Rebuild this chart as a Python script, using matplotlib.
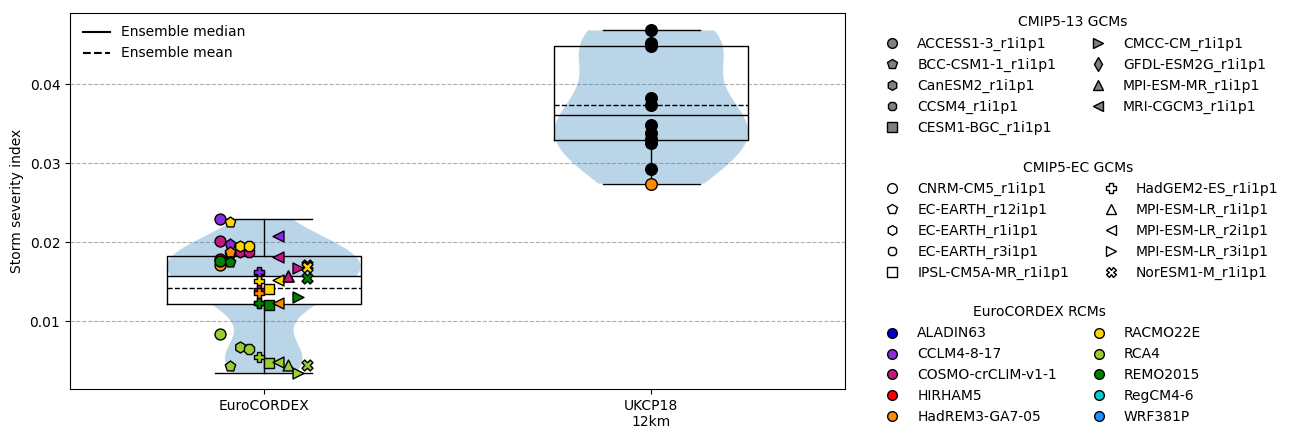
import matplotlib
matplotlib.use('Agg')
import matplotlib.pyplot as plt
from matplotlib.lines import Line2D
import numpy as np

# ---------------- data ----------------
categories = ["EuroCORDEX", "UKCP18\n12km"]

cmip13_gcms = ["ACCESS1-3_r1i1p1", "BCC-CSM1-1_r1i1p1", "CanESM2_r1i1p1", "CCSM4_r1i1p1",
               "CESM1-BGC_r1i1p1", "CMCC-CM_r1i1p1", "GFDL-ESM2G_r1i1p1", "MPI-ESM-MR_r1i1p1",
               "MRI-CGCM3_r1i1p1"]
cmip13_markers = ['o', 'p', 'h', '8', 's', '>', 'd', '^', '<']

ec_gcms = ["CNRM-CM5_r1i1p1", "EC-EARTH_r12i1p1", "EC-EARTH_r1i1p1", "EC-EARTH_r3i1p1",
           "IPSL-CM5A-MR_r1i1p1", "HadGEM2-ES_r1i1p1", "MPI-ESM-LR_r1i1p1", "MPI-ESM-LR_r2i1p1",
           "MPI-ESM-LR_r3i1p1", "NorESM1-M_r1i1p1"]
ec_markers = ['o', 'p', 'h', '8', 's', 'P', '^', '<', '>', 'X']
# order of GCMs across the horizontal spread of the EuroCORDEX points
ec_spread_order = ["CNRM-CM5_r1i1p1", "EC-EARTH_r12i1p1", "EC-EARTH_r1i1p1", "EC-EARTH_r3i1p1",
                   "HadGEM2-ES_r1i1p1", "IPSL-CM5A-MR_r1i1p1", "MPI-ESM-LR_r2i1p1",
                   "MPI-ESM-LR_r1i1p1", "MPI-ESM-LR_r3i1p1", "NorESM1-M_r1i1p1"]

rcms = ["ALADIN63", "CCLM4-8-17", "COSMO-crCLIM-v1-1", "HIRHAM5", "HadREM3-GA7-05",
        "RACMO22E", "RCA4", "REMO2015", "RegCM4-6", "WRF381P"]
rcm_colors = ["mediumblue", "blueviolet", "mediumvioletred", "red", "darkorange",
              "gold", "yellowgreen", "green", "darkturquoise", "dodgerblue"]

# EuroCORDEX members (drawing order: partly hidden ones first)
euro_gcm = ["MPI-ESM-LR_r1i1p1", "HadGEM2-ES_r1i1p1", "HadGEM2-ES_r1i1p1", "EC-EARTH_r12i1p1",
            "CNRM-CM5_r1i1p1", "NorESM1-M_r1i1p1",
            "CNRM-CM5_r1i1p1", "CNRM-CM5_r1i1p1", "CNRM-CM5_r1i1p1", "CNRM-CM5_r1i1p1", "CNRM-CM5_r1i1p1",
            "EC-EARTH_r12i1p1", "EC-EARTH_r12i1p1", "EC-EARTH_r12i1p1", "EC-EARTH_r12i1p1", "EC-EARTH_r12i1p1",
            "EC-EARTH_r1i1p1", "EC-EARTH_r1i1p1", "EC-EARTH_r1i1p1",
            "EC-EARTH_r3i1p1", "EC-EARTH_r3i1p1", "EC-EARTH_r3i1p1",
            "HadGEM2-ES_r1i1p1", "HadGEM2-ES_r1i1p1", "HadGEM2-ES_r1i1p1", "HadGEM2-ES_r1i1p1",
            "HadGEM2-ES_r1i1p1", "HadGEM2-ES_r1i1p1",
            "IPSL-CM5A-MR_r1i1p1", "IPSL-CM5A-MR_r1i1p1", "IPSL-CM5A-MR_r1i1p1",
            "MPI-ESM-LR_r2i1p1", "MPI-ESM-LR_r2i1p1", "MPI-ESM-LR_r2i1p1", "MPI-ESM-LR_r2i1p1",
            "MPI-ESM-LR_r2i1p1",
            "MPI-ESM-LR_r1i1p1", "MPI-ESM-LR_r1i1p1",
            "MPI-ESM-LR_r3i1p1", "MPI-ESM-LR_r3i1p1", "MPI-ESM-LR_r3i1p1",
            "NorESM1-M_r1i1p1", "NorESM1-M_r1i1p1", "NorESM1-M_r1i1p1"]
euro_rcm = ["ALADIN63", "HIRHAM5", "RegCM4-6", "COSMO-crCLIM-v1-1",
            "HIRHAM5", "COSMO-crCLIM-v1-1",
            "CCLM4-8-17", "COSMO-crCLIM-v1-1", "HadREM3-GA7-05", "REMO2015", "RCA4",
            "RACMO22E", "CCLM4-8-17", "HadREM3-GA7-05", "REMO2015", "RCA4",
            "COSMO-crCLIM-v1-1", "RACMO22E", "RCA4",
            "COSMO-crCLIM-v1-1", "RACMO22E", "RCA4",
            "CCLM4-8-17", "RACMO22E", "COSMO-crCLIM-v1-1", "HadREM3-GA7-05", "REMO2015", "RCA4",
            "RACMO22E", "REMO2015", "RCA4",
            "CCLM4-8-17", "COSMO-crCLIM-v1-1", "RACMO22E", "HadREM3-GA7-05", "RCA4",
            "COSMO-crCLIM-v1-1", "RCA4",
            "COSMO-crCLIM-v1-1", "REMO2015", "RCA4",
            "RACMO22E", "REMO2015", "RCA4"]
euro_ssi = [0.0157, 0.0123, 0.0161, 0.0185,
            0.0178, 0.0171,
            0.02287, 0.02013, 0.01709, 0.01759, 0.00831,
            0.02249, 0.01971, 0.01869, 0.01743, 0.00434,
            0.01869, 0.01949, 0.00667,
            0.01877, 0.01949, 0.00646,
            0.01616, 0.01510, 0.01392, 0.01350, 0.01224, 0.00548,
            0.01400, 0.01203, 0.00464,
            0.02076, 0.01814, 0.01519, 0.01224, 0.00477,
            0.01574, 0.00443,
            0.01667, 0.01308, 0.00346,
            0.01688, 0.01540, 0.00443]

ukcp_ssi = [0.0468, 0.0452, 0.0450, 0.0448, 0.0383, 0.0374, 0.0348, 0.0338,
            0.0330, 0.0325, 0.0293, 0.0274]
ukcp_colors = ["black"] * 11 + ["darkorange"]

# ---------------- plot ----------------
fig = plt.figure(figsize=(12.93, 4.40), dpi=100)
ax = fig.add_axes([70 / 1293, 1 - 389 / 440, 775 / 1293, 376 / 440])

data = [euro_ssi, ukcp_ssi]
positions = [0, 1]

ax.yaxis.grid(True, linestyle='--', color='#b0b0b0', zorder=0)
ax.set_axisbelow(True)

vp = ax.violinplot(data, positions=positions, widths=0.5, showextrema=False)
for b in vp['bodies']:
    b.set_facecolor('#1f77b4')
    b.set_edgecolor('none')
    b.set_alpha(0.3)
    b.set_zorder(1)

# white part of the EuroCORDEX box between first quartile and median
q1, med = np.percentile(euro_ssi, [25, 50])
ax.fill_between([positions[0] - 0.25, positions[0] + 0.25], q1, med, color='white', zorder=1.5, lw=0)

ax.boxplot(data, positions=positions, widths=0.5, showfliers=False,
           showmeans=True, meanline=True,
           boxprops=dict(color='black', zorder=2),
           whiskerprops=dict(color='black', zorder=2),
           capprops=dict(color='black', zorder=2),
           medianprops=dict(color='black', linestyle='-', zorder=2),
           meanprops=dict(color='black', linestyle='--', zorder=2))

ec_marker_of = dict(zip(ec_gcms, ec_markers))
rcm_color_of = dict(zip(rcms, rcm_colors))
for g, r, v in zip(euro_gcm, euro_rcm, euro_ssi):
    i = ec_spread_order.index(g)
    xoff = (i - 4.5) * 0.025
    ax.scatter(positions[0] + xoff, v, marker=ec_marker_of[g], s=62,
               facecolor=rcm_color_of[r], edgecolor='black', linewidth=1, zorder=3)

for v, c in zip(ukcp_ssi, ukcp_colors):
    ax.scatter(positions[1], v, marker='o', s=70, facecolor=c, edgecolor='black',
               linewidth=1, zorder=3)

ax.set_xlim(-0.5, 1.5)
ax.set_ylim(0.0014, 0.049)
ax.set_xticks(positions)
ax.set_xticklabels(categories)
ax.set_ylabel("Storm severity index")

ens_handles = [Line2D([], [], color='black', linestyle='-'),
               Line2D([], [], color='black', linestyle='--')]
ax.legend(ens_handles, ["Ensemble median", "Ensemble mean"], loc='upper left', frameon=False)

def mk(m, fc):
    return Line2D([], [], marker=m, linestyle='none', markerfacecolor=fc,
                  markeredgecolor='black', markersize=7)

h1 = [mk(m, 'grey') for m in cmip13_markers]
h2 = [mk(m, 'white') for m in ec_markers]
h3 = [mk('o', c) for c in rcm_colors]

fig.legend(h1, cmip13_gcms, title="CMIP5-13 GCMs", ncol=2, frameon=False,
           loc='upper left', bbox_to_anchor=(866 / 1293, 1 - 3 / 440))
fig.legend(h2, ec_gcms, title="CMIP5-EC GCMs", ncol=2, frameon=False,
           loc='upper left', bbox_to_anchor=(866 / 1293, 1 - 148 / 440))
fig.legend(h3, rcms, title="EuroCORDEX RCMs", ncol=2, frameon=False,
           loc='upper left', bbox_to_anchor=(866 / 1293, 1 - 293 / 440))

fig.savefig("out.png", dpi=100)
